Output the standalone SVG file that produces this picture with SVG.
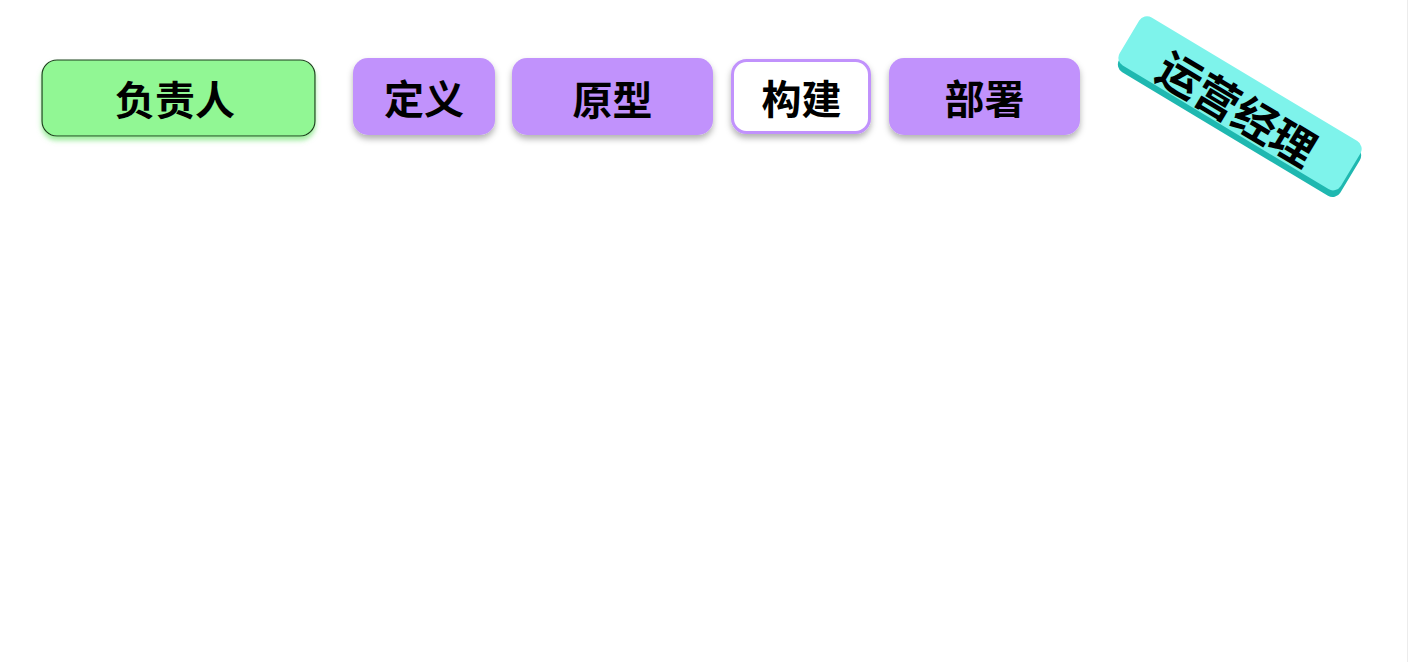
<svg xmlns="http://www.w3.org/2000/svg" width="1409" height="662" viewBox="0 0 1409 662">
<defs>
<style>
.lbl{font-family:"Noto Sans CJK SC","Noto Sans",sans-serif;font-weight:700;font-size:40px;fill:#000;text-anchor:middle;dominant-baseline:central}
.ph{fill:#c192fc}
</style>
<filter id="sh" x="-20%" y="-20%" width="140%" height="160%">
<feDropShadow dx="0" dy="4" stdDeviation="3" flood-color="#000" flood-opacity="0.3"/>
</filter>
<filter id="gsh" x="-20%" y="-20%" width="140%" height="160%">
<feDropShadow dx="0" dy="4" stdDeviation="2.5" flood-color="#5fe05f" flood-opacity="0.6"/>
</filter>
</defs>
<rect width="1409" height="662" fill="#fff"/>
<line x1="1407.5" y1="0" x2="1407.5" y2="662" stroke="#ececec" stroke-width="1"/>
<g id="connectors"></g>
<g id="node-owner">
<rect x="42" y="60" width="273" height="76" rx="15" fill="#91f794" stroke="#1f3a1f" stroke-width="1.2" filter="url(#gsh)"/>
<text class="lbl" x="175" y="98">负责人</text>
</g>
<g id="node-define">
<rect class="ph" x="353" y="58" width="142" height="77" rx="15" filter="url(#sh)"/>
<text class="lbl" x="424" y="97">定义</text>
</g>
<g id="node-prototype">
<rect class="ph" x="512" y="58" width="201" height="77" rx="15" filter="url(#sh)"/>
<text class="lbl" x="612.5" y="98">原型</text>
</g>
<g id="node-build">
<rect x="732.5" y="60.5" width="137" height="72" rx="14" fill="#fff" stroke="#c192fc" stroke-width="3" filter="url(#sh)"/>
<text class="lbl" x="801.5" y="97">构建</text>
</g>
<g id="node-deploy">
<rect class="ph" x="889" y="58" width="191" height="77" rx="15" filter="url(#sh)"/>
<text class="lbl" x="984.5" y="97">部署</text>
</g>
<g id="node-ops" transform="translate(1239,105) rotate(31)">
<rect x="-126" y="-24" width="258" height="56" rx="9" fill="#1fb8b0"/>
<rect x="-129" y="-30" width="258" height="56" rx="9" fill="#7ef3eb"/>
<text class="lbl" x="0" y="2" style="font-size:44px">运营经理</text>
</g>
</svg>
